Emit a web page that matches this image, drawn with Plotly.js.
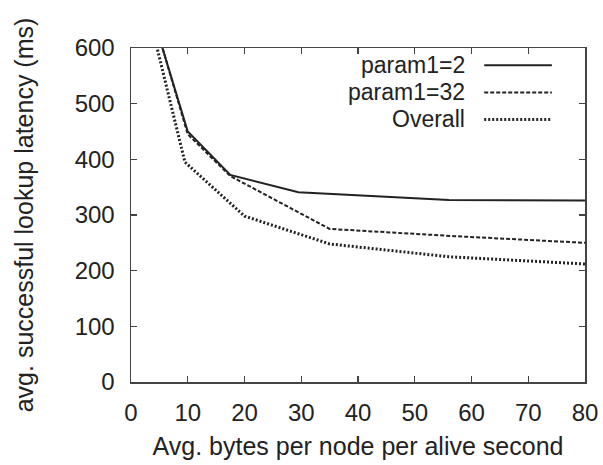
<!DOCTYPE html>
<html>
<head>
<meta charset="utf-8">
<script src="https://cdn.plot.ly/plotly-3.0.1.min.js"></script>
<style>html,body{margin:0;padding:0;background:#fff;}#chart{width:603px;height:465px;}</style>
</head>
<body>
<div id="chart"></div>
<script>
// Data
const seriesNames = ["param1=2", "param1=32", "Overall"];
const xParam2 = [4.5, 10, 17.5, 29.5, 56, 80];
const yParam2 = [635, 450, 372, 341, 327, 326];
const xParam32 = [4.4, 10, 17.5, 35, 57, 80];
const yParam32 = [640, 445, 370, 275, 262, 250];
const xOverall = [4, 9.5, 20, 35, 56, 80];
const yOverall = [625, 395, 298, 248, 225, 212];
const xTicks = [0, 10, 20, 30, 40, 50, 60, 70, 80];
const yTicks = [0, 100, 200, 300, 400, 500, 600];

const FONT = "Liberation Sans, Arial, Helvetica, sans-serif";
const INK = "#222";
const styles = [
  {dash: "solid", width: 2},
  {dash: "4px,2px", width: 2},
  {dash: "2px,2px", width: 3}
];
const xs = [xParam2, xParam32, xOverall];
const ys = [yParam2, yParam32, yOverall];

const traces = seriesNames.map((n, i) => ({
  type: "scatter", mode: "lines", name: n,
  x: xs[i], y: ys[i],
  line: {color: INK, width: styles[i].width, dash: styles[i].dash},
  showlegend: false, hoverinfo: "skip"
}));

// gnuplot-style legend: right-aligned text, sample line on the right
const legY = [0.948, 0.867, 0.786];
const annotations = seriesNames.map((n, i) => ({
  xref: "paper", yref: "paper", x: 0.738, y: legY[i],
  xanchor: "right", yanchor: "middle", text: n, showarrow: false, borderpad: 0,
  font: {family: FONT, size: 23, color: INK}
}));
const shapes = seriesNames.map((n, i) => ({
  type: "line", xref: "paper", yref: "paper",
  x0: 0.778, x1: 0.927, y0: legY[i], y1: legY[i],
  line: {color: INK, width: styles[i].width, dash: styles[i].dash}
}));

const axisCommon = {
  showgrid: false, zeroline: false, showline: true, linecolor: "#444", linewidth: 1.5,
  mirror: "ticks", ticks: "inside", ticklen: 6, tickwidth: 1.2, tickcolor: "#444",
  tickfont: {family: FONT, size: 24, color: INK}, automargin: false
};

const layout = {
  width: 603, height: 465,
  margin: {l: 131, r: 18, t: 48, b: 83},
  paper_bgcolor: "#fff", plot_bgcolor: "#fff",
  showlegend: false,
  xaxis: Object.assign({}, axisCommon, {
    range: [0, 80], tickmode: "array", tickvals: xTicks, ticktext: xTicks.map(String),
    ticklabelstandoff: 9,
    title: {text: "Avg. bytes per node per alive second", font: {family: FONT, size: 25, color: INK}, standoff: 12}
  }),
  yaxis: Object.assign({}, axisCommon, {
    range: [0, 600], tickmode: "array", tickvals: yTicks, ticktext: yTicks.map(String),
    ticklabelstandoff: 10,
    title: {text: "avg. successful lookup latency (ms)", font: {family: FONT, size: 25, color: INK}, standoff: 34}
  }),
  annotations: annotations,
  shapes: shapes
};

Plotly.newPlot("chart", traces, layout, {staticPlot: true, displayModeBar: false});
</script>
</body>
</html>
